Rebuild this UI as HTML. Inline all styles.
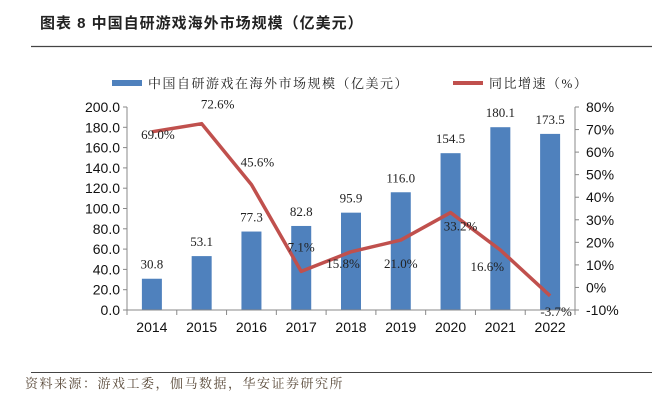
<!DOCTYPE html>
<html><head><meta charset="utf-8"><style>
body{margin:0;background:#fff;width:652px;height:407px;overflow:hidden;font-family:"Liberation Sans","Noto Sans CJK SC",sans-serif}
</style></head><body>
<svg width="652" height="407" xmlns="http://www.w3.org/2000/svg">
<text x="40" y="28" font-size="15" font-weight="bold" fill="#222" letter-spacing="1" font-family="Liberation Sans, Noto Sans CJK SC, sans-serif">图表 8 中国自研游戏海外市场规模（亿美元）</text>
<line x1="31" y1="46.5" x2="652" y2="46.5" stroke="#444" stroke-width="1.2"/>
<g>
<rect x="112" y="80" width="30" height="6" fill="#4f81bd"/>
<text x="148" y="88" font-size="13" fill="#222" letter-spacing="1.5" font-family="Liberation Serif, Noto Serif CJK SC, serif">中国自研游戏在海外市场规模（亿美元）</text>
<line x1="453" y1="83" x2="483" y2="83" stroke="#c0504d" stroke-width="4"/>
<text x="489" y="88" font-size="13" fill="#222" letter-spacing="1.5" font-family="Liberation Serif, Noto Serif CJK SC, serif">同比增速（%）</text>
</g>
<g id="plot"></g>
<line x1="31" y1="372.5" x2="652" y2="372.5" stroke="#444" stroke-width="1"/>
<text x="25" y="388" font-size="13" fill="#5a4a3a" letter-spacing="1.5" font-family="Liberation Serif, Noto Serif CJK SC, serif">资料来源：游戏工委，伽马数据，华安证券研究所</text>
</svg>
<script>
const categories=["2014","2015","2016","2017","2018","2019","2020","2021","2022"];
const marketSize=[30.8,53.1,77.3,82.8,95.9,116.0,154.5,180.1,173.5];
const growth=[69.0,72.6,45.6,7.1,15.8,21.0,33.2,16.6,-3.7];
const leftTicks=[0,20,40,60,80,100,120,140,160,180,200];
const rightTicks=[-10,0,10,20,30,40,50,60,70,80];
const labelDx=[6,16,6,0,-8,0,10,-13,6];
const labelDy=[2,-20,-23,-25,11,23,13,16,15];
const NS="http://www.w3.org/2000/svg";
const g=document.getElementById('plot');
const X0=127,X1=575,Y0=310,Y1=107;
const step=(X1-X0)/categories.length;
const xc=i=>X0+step*(i+0.5);
const yL=v=>Y0-(v/200)*(Y0-Y1);
const yR=v=>Y0-((v+10)/90)*(Y0-Y1);
function mk(t,a){const e=document.createElementNS(NS,t);for(const k in a)e.setAttribute(k,a[k]);g.appendChild(e);return e;}
marketSize.forEach((v,i)=>{
 const r=mk('rect',{x:xc(i)-10,y:yL(v),width:20,height:Y0-yL(v),fill:'#4f81bd'});
 
 
 const t=mk('text',{x:xc(i),y:yL(v)-10,'text-anchor':'middle','font-size':13,fill:'#222','font-family':'Liberation Serif, serif'});
 t.textContent=v.toFixed(1);
 
 
});
let a=mk('line',{x1:X0,y1:Y1,x2:X0,y2:Y0,stroke:'#888'});


a=mk('line',{x1:X1,y1:Y1,x2:X1,y2:Y0,stroke:'#888'});


a=mk('line',{x1:X0,y1:Y0,x2:X1,y2:Y0,stroke:'#888'});


leftTicks.forEach(v=>{
 mk('line',{x1:X0-4,y1:yL(v),x2:X0,y2:yL(v),stroke:'#888'});
 const t=mk('text',{x:X0-7,y:yL(v)+5,'text-anchor':'end','font-size':14,fill:'#111'});
 t.textContent=v.toFixed(1);
 
 
});
rightTicks.forEach(v=>{
 mk('line',{x1:X1,y1:yR(v),x2:X1+4,y2:yR(v),stroke:'#888'});
 const t=mk('text',{x:X1+11,y:yR(v)+5,'font-size':14,fill:'#111'});
 t.textContent=v+'%';
 
 
});
categories.forEach((c,i)=>{
 mk('line',{x1:X0+step*i,y1:Y0,x2:X0+step*i,y2:Y0+5,stroke:'#888'});
 const t=mk('text',{x:xc(i),y:Y0+22,'text-anchor':'middle','font-size':14,fill:'#111'});
 t.textContent=c;
 
 
});
mk('line',{x1:X1,y1:Y0,x2:X1,y2:Y0+5,stroke:'#888'});
const pts=growth.map((v,i)=>xc(i)+','+yR(v)).join(' ');
const pl=mk('polyline',{points:pts,fill:'none',stroke:'#c0504d','stroke-width':3.5,'stroke-linejoin':'round'});


growth.forEach((v,i)=>{
 const t=mk('text',{x:xc(i)+labelDx[i],y:yR(v)+labelDy[i]+5,'text-anchor':'middle','font-size':13,fill:'#222','font-family':'Liberation Serif, serif'});
 t.textContent=v.toFixed(1)+'%';
 
 
});
</script>
</body></html>
